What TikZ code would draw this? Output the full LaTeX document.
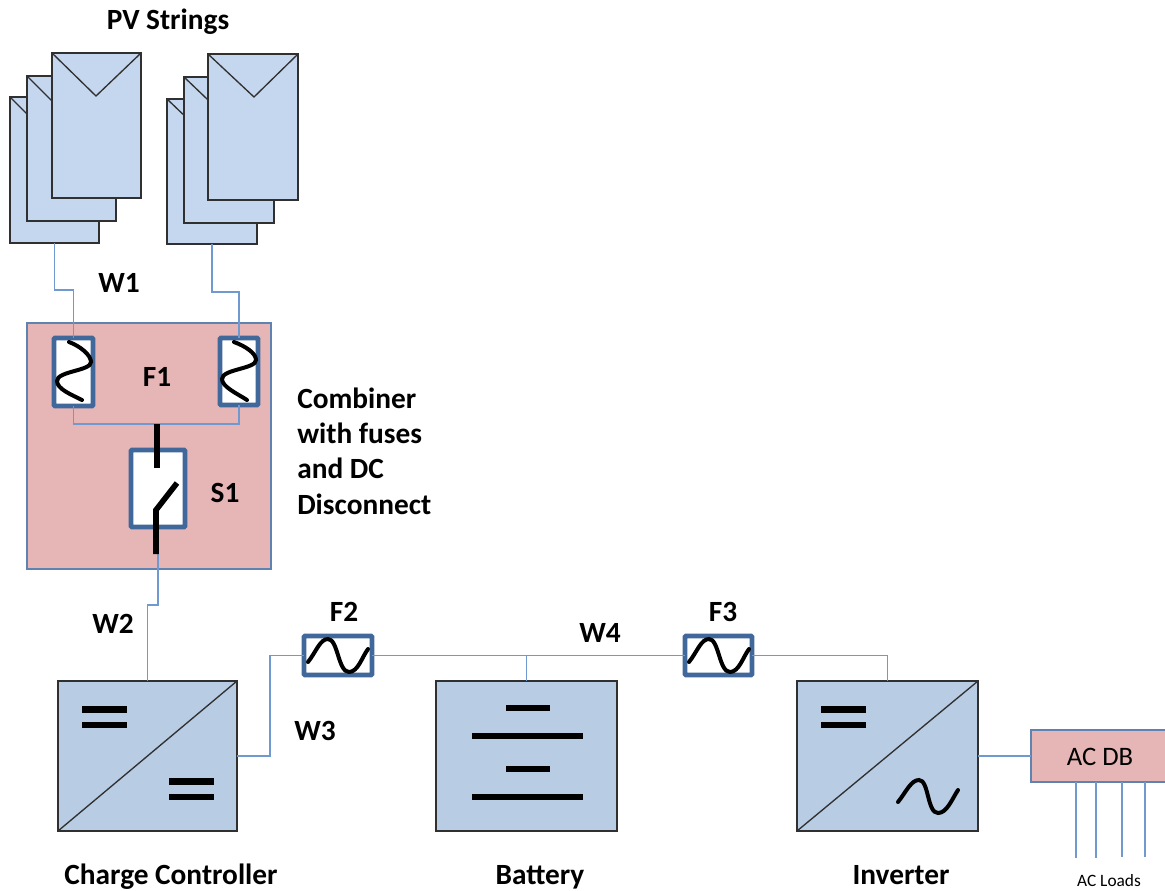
\documentclass[tikz,border=0pt]{standalone}
\usepackage{fontspec}
\setmainfont{Carlito}
\definecolor{panelfill}{HTML}{C5D7EE}
\definecolor{convfill}{HTML}{B8CCE4}
\definecolor{pinkfill}{HTML}{E6B6B6}
\definecolor{wire}{HTML}{7099CF}
\definecolor{fusecol}{HTML}{41689A}
\definecolor{inkdark}{HTML}{303030}
\newcommand{\bx}[6]{%
  \pgfmathsetmacro\bxw{(#5-#3)*0.75}\pgfmathsetmacro\bxh{(#6-#4)*0.75}%
  \node[#2,minimum width=\bxw pt,minimum height=\bxh pt] (#1) at ({(#3+#5)/2},{(#4+#6)/2}) {};}
\tikzset{
  boxbase/.style={rectangle,inner sep=0pt,outer sep=0pt},
  panel/.style={boxbase,fill=panelfill,draw=inkdark,line width=1.3pt},
  conv/.style={boxbase,fill=convfill,draw=inkdark,line width=1.3pt},
  pinkbox/.style={boxbase,fill=pinkfill,draw=wire!85!black,line width=1pt},
  fuse/.style={boxbase,fill=white,draw=fusecol,line width=3.4pt,rounded corners=0.6pt},
  wireline/.style={draw=wire,line width=1.4pt},
  thinink/.style={draw=inkdark,line width=1pt},
  thick bar/.style={draw=black,line width=4.8pt},
  wave/.style={draw=black,line width=3pt,line cap=round},
  lab/.style={inner sep=0pt,font=\fontsize{22pt}{26pt}\selectfont\bfseries},
}
\begin{document}
\begin{tikzpicture}[x=0.75pt,y=-0.75pt]
\useasboundingbox (0,0) rectangle (1165,890);
% PV panels
\bx{pva}{panel}{10}{97}{99}{243}
\draw[thinink] (pva.north west) -- (54,141) -- (pva.north east);
\bx{pvb}{panel}{27}{76}{116}{221}
\draw[thinink] (pvb.north west) -- (71,120) -- (pvb.north east);
\bx{pvc}{panel}{52}{53}{141}{198}
\draw[thinink] (pvc.north west) -- (96,96) -- (pvc.north east);
\bx{pvd}{panel}{167}{99}{257}{244}
\draw[thinink] (pvd.north west) -- (212,142) -- (pvd.north east);
\bx{pve}{panel}{184}{77}{274}{223}
\draw[thinink] (pve.north west) -- (229,120) -- (pve.north east);
\bx{pvf}{panel}{208}{54}{298}{200}
\draw[thinink] (pvf.north west) -- (254,97) -- (pvf.north east);
% combiner
\bx{comb}{pinkbox}{27}{323}{271}{569}
\bx{fa}{fuse}{54}{338}{93}{406}
\bx{fb}{fuse}{220}{338}{258}{405}
\bx{sw}{fuse}{131}{450}{185}{527}
% wires
\draw[wireline] (pva.south) -- ++(0,47) -| (fa.north);
\draw[wireline] (pvd.south) -- ++(0,48) -| (fb.north);
\draw[wireline] (fa.south) -- ++(0,18) -| (fb.south);
\bx{cc}{conv}{58}{681}{237}{831}
\bx{bat}{conv}{436}{681}{617}{831}
\bx{inv}{conv}{797}{681}{978}{831}
\bx{ftwo}{fuse}{304}{636}{372}{675}
\bx{fthree}{fuse}{685}{636}{752}{675}
\draw[wireline] (sw.south) -- (158,605) -| (cc.north);
\draw[wireline] (cc.east) -- (270,756) |- (ftwo.west);
\draw[wireline] (ftwo.east) -- (fthree.west);
\draw[wireline] (ftwo.east -| bat.north) -- (bat.north);
\draw[wireline] (fthree.east) -| (inv.north);
% AC DB
\bx{acdb}{boxbase,fill=pinkfill}{1031}{730}{1165}{782}
\draw[draw=wire!85!black,line width=1pt] (acdb.north east) -- (acdb.north west) -- (acdb.south west) -- (acdb.south east);
\draw[wireline] (inv.east) -- (acdb.west);
\coordinate (la) at (1076,858);
\coordinate (lb) at (1096,858);
\coordinate (lc) at (1122,857);
\coordinate (ld) at (1145,857);
\draw[wireline] (1076,782) -- (la);
\draw[wireline] (1096,782) -- (lb);
\draw[wireline] (1122,782) -- (lc);
\draw[wireline] (1145,782) -- (ld);
% fuse waves
\draw[wave] (69,342) .. controls (80,346) and (91,355) .. (91,362) .. controls (91,371) and (57,371) .. (57,381) .. controls (57,389) and (72,395) .. (82,400);
\draw[wave] (234,342) .. controls (245,346) and (256,353) .. (256,360) .. controls (256,369) and (222,369) .. (222,379) .. controls (222,387) and (238,394) .. (247,400);
\draw[wave] (308,662) .. controls (316,652) and (320,639) .. (328,639) .. controls (338,639) and (338,672) .. (349,672) .. controls (358,672) and (362,657) .. (368,649);
\draw[wave] (689,662) .. controls (697,652) and (701,639) .. (709,639) .. controls (719,639) and (719,672) .. (730,672) .. controls (739,672) and (743,657) .. (749,649);
\draw[wave] (898,802) .. controls (906,792) and (911,780) .. (919,780) .. controls (929,780) and (927,813) .. (938,813) .. controls (947,813) and (952,799) .. (958,790);
% switch
\draw[draw=black,line width=4.2pt] (157,424) -- (157,468);
\draw[draw=black,line width=4.2pt,line join=miter] (177,483) -- (156,510) -- (156,554);
% converters
\draw[thinink] (cc.south west) -- (cc.north east);
\draw[thinink] (inv.south west) -- (inv.north east);
\draw[thick bar] (82,709.5) -- (127,709.5);
\draw[thick bar] (82,725) -- (127,725);
\draw[thick bar] (169,781.5) -- (214,781.5);
\draw[thick bar] (169,797) -- (214,797);
\draw[thick bar] (821,709.5) -- (866,709.5);
\draw[thick bar] (821,725) -- (866,725);
% battery plates
\draw[thick bar] (506,708) -- (550,708);
\draw[thick bar] (472,736) -- (583,736);
\draw[thick bar] (506,769) -- (550,769);
\draw[thick bar] (472,797) -- (583,797);
% labels
\node[lab] (tpv) at (168,22) {PV Strings};
\node[lab] (tw1) at (119,283) {W1};
\node[lab] (tf1) at (157,377) {F1};
\node[lab] (ts1) at (225,493) {S1};
\node[lab,anchor=west,align=left,font=\fontsize{22pt}{26.5pt}\selectfont\bfseries] (tcomb) at (297,451) {Combiner\\with fuses\\and DC\\Disconnect};
\node[lab] (tw2) at (113,624) {W2};
\node[lab] (tw3) at (315,731) {W3};
\node[lab] (tf2) at (344,612) {F2};
\node[lab] (tw4) at (600,633) {W4};
\node[lab] (tf3) at (723,612) {F3};
\node[lab,anchor=base] (tcc) at (171,884) {Charge Controller};
\node[lab,anchor=base] (tbat) at (540,884) {Battery};
\node[lab,anchor=base] (tinv) at (901,884) {Inverter};
\node[inner sep=0pt,font=\fontsize{20pt}{24pt}\selectfont] (tac) at (1100,757) {AC DB};
\node[inner sep=0pt,font=\fontsize{13pt}{15pt}\selectfont] (tload) at (1109,881) {AC Loads};
\end{tikzpicture}
\end{document}
